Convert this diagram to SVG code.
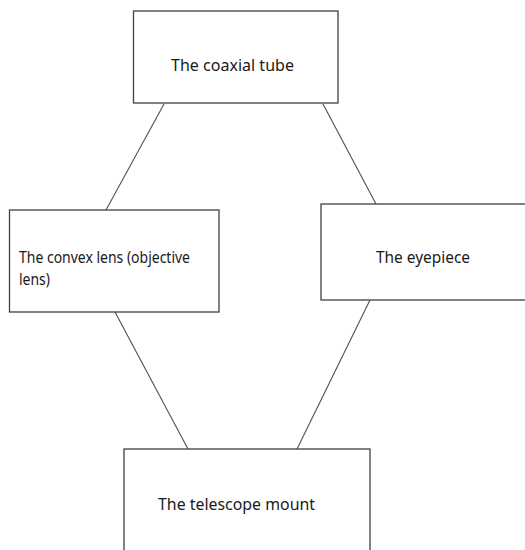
<svg xmlns="http://www.w3.org/2000/svg" width="525" height="550" viewBox="0 0 525 550">
<style>
.box{fill:#fff;stroke:#404040;stroke-width:1.3}
.lbl{font-family:"Noto Sans","Open Sans",sans-serif;font-size:16px;fill:#1a1a1a}
.edge{stroke:#505050;stroke-width:1.1;fill:none}
</style>
<rect width="525" height="550" fill="#fff"/>
<g id="connectors">
<line class="edge" x1="164" y1="104" x2="106" y2="210"/>
<line class="edge" x1="323" y1="104" x2="376" y2="204"/>
<line class="edge" x1="115" y1="312" x2="188" y2="449"/>
<line class="edge" x1="370" y1="300" x2="297" y2="449"/>
</g>
<g id="coaxial-tube">
<rect class="box" x="133.5" y="11" width="204.5" height="92"/>
<text class="lbl" x="171" y="71" textLength="123" lengthAdjust="spacingAndGlyphs">The coaxial tube</text>
</g>
<g id="convex-lens">
<rect class="box" x="9.5" y="210" width="209.5" height="102"/>
<text class="lbl" x="19" y="263" textLength="171" lengthAdjust="spacingAndGlyphs">The convex lens (objective</text>
<text class="lbl" x="19" y="285" textLength="31" lengthAdjust="spacingAndGlyphs">lens)</text>
</g>
<g id="eyepiece">
<rect class="box" x="321" y="204" width="210" height="96"/>
<text class="lbl" x="376" y="262.5" textLength="94" lengthAdjust="spacingAndGlyphs">The eyepiece</text>
</g>
<g id="telescope-mount">
<rect class="box" x="124" y="449" width="246" height="110"/>
<text class="lbl" x="158" y="510" textLength="157" lengthAdjust="spacingAndGlyphs">The telescope mount</text>
</g>
</svg>
